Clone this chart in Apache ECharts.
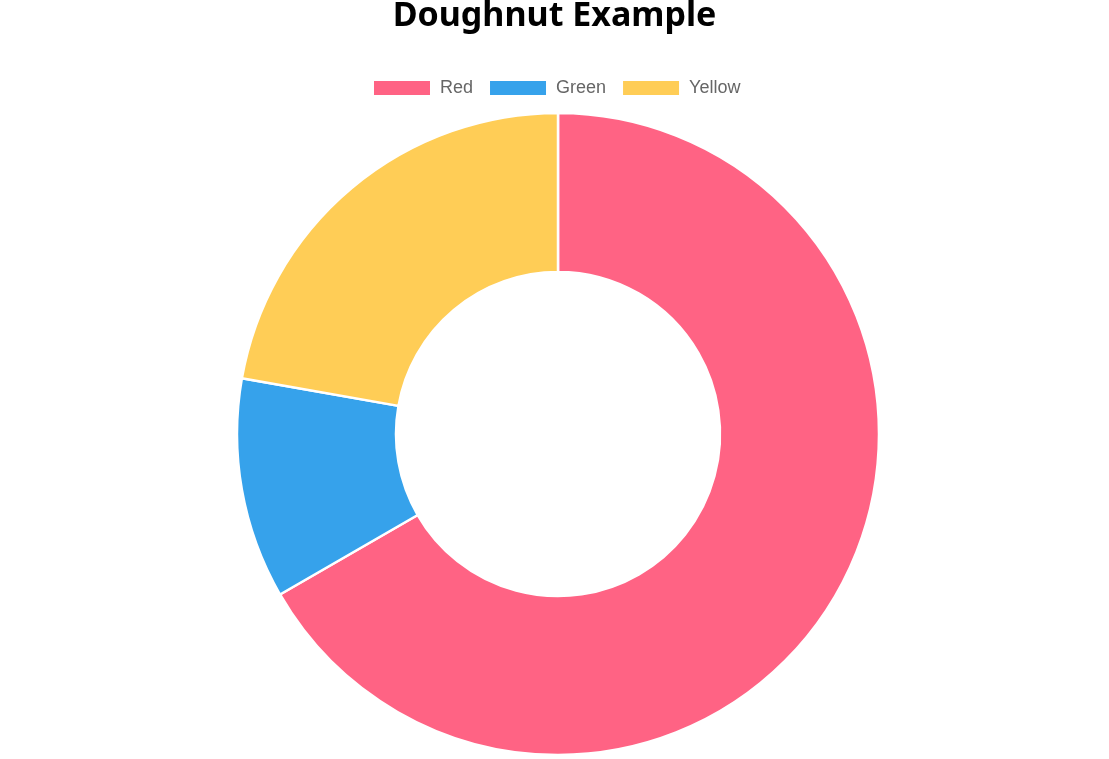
<!DOCTYPE html>
<html>
<head>
<meta charset="utf-8">
<script src="https://cdn.jsdelivr.net/npm/echarts@6/dist/echarts.min.js"></script>
<style>
html,body{margin:0;padding:0;background:#fff;}
#chart{width:1109px;height:759px;}
</style>
</head>
<body>
<div id="chart"></div>
<script>
const categories = ['Red', 'Green', 'Yellow'];
const values = [300, 50, 100];
const colors = ['#FF6384', '#36A2EB', '#FFCD56'];

const chart = echarts.init(document.getElementById('chart'), null, {renderer: 'canvas'});
chart.setOption({
  animation: false,
  title: {
    text: 'Doughnut Example',
    left: 'center',
    top: -1,
    padding: 0,
    textStyle: {fontFamily: 'Noto Sans', fontWeight: 'bold', fontSize: 34, color: '#000'}
  },
  legend: {
    data: categories,
    top: 79,
    left: 372,
    padding: 0,
    icon: 'rect',
    itemWidth: 58,
    itemHeight: 16,
    itemGap: 15,
    textStyle: {fontFamily: 'Liberation Sans', fontSize: 18, color: '#666', padding: [0, 0, 0, 4]},
    selectedMode: false
  },
  color: colors,
  series: [{
    type: 'pie',
    center: [558, 434],
    radius: [162, 321],
    startAngle: 90,
    clockwise: true,
    label: {show: false},
    labelLine: {show: false},
    emphasis: {disabled: true},
    itemStyle: {borderColor: '#fff', borderWidth: 2.5},
    data: categories.map((c, i) => ({name: c, value: values[i]}))
  }]
});
</script>
</body>
</html>
